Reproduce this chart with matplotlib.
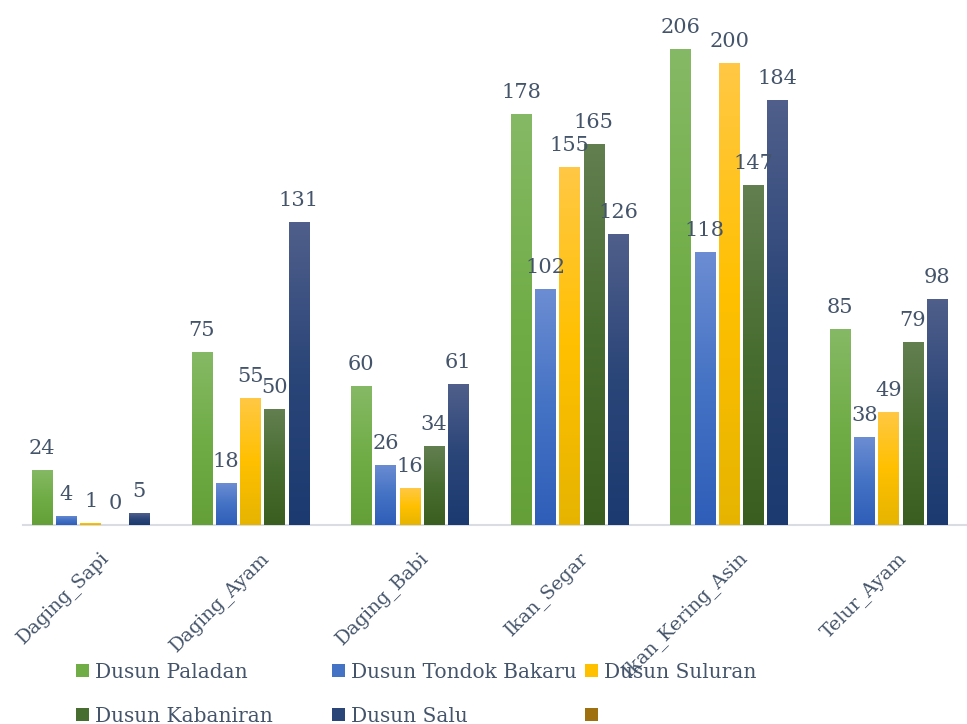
import numpy as np
import matplotlib
matplotlib.use("Agg")
import matplotlib.pyplot as plt
from matplotlib.colors import LinearSegmentedColormap
from matplotlib.patches import Rectangle
from matplotlib.transforms import ScaledTranslation

plt.rcParams["font.family"] = ["DejaVu Serif"]

# data
kategori = ["Daging_Sapi", "Daging_Ayam", "Daging_Babi", "Ikan_Segar", "Ikan_Kering_Asin", "Telur_Ayam"]
dusun = ["Dusun Paladan", "Dusun Tondok Bakaru", "Dusun Suluran", "Dusun Kabaniran", "Dusun Salu", ""]
paladan = [24, 75, 60, 178, 206, 85]
tondok_bakaru = [4, 18, 26, 102, 118, 38]
suluran = [1, 55, 16, 155, 200, 49]
kabaniran = [0, 50, 34, 165, 147, 79]
salu = [5, 131, 61, 126, 184, 98]
kosong = []  # seri keenam di legenda, tanpa nilai
data = [paladan, tondok_bakaru, suluran, kabaniran, salu, kosong]

# warna gradien (atas, tengah, bawah)
warna = [
    ("#86B965", "#70AD47", "#64A037"),
    ("#6C8DD3", "#4472C4", "#2F5EB9"),
    ("#FFC845", "#FFC000", "#E6B400"),
    ("#627F50", "#486D30", "#3A5E1F"),
    ("#505F8B", "#2A4578", "#1C3A70"),
    ("#A17C36", "#9E7010", "#996E00"),
]
teks = "#44546A"

W, H = 967, 724
fig = plt.figure(figsize=(W / 100, H / 100), dpi=100)
ax = fig.add_axes([23 / W, (H - 525) / H, (W - 23) / W, 525 / H])

x = np.arange(len(kategori))
slot = 0.152
lebar = 0.128
grad = np.linspace(0, 1, 256).reshape(-1, 1)

for i, nilai in enumerate(data):
    if not nilai:
        continue
    atas, tengah, bawah = warna[i]
    cmap = LinearSegmentedColormap.from_list("g%d" % i, [bawah, tengah, atas])
    posisi = x + (i - 2.5) * slot
    bars = ax.bar(posisi, nilai, lebar, color=tengah, zorder=2)
    for b, v in zip(bars, nilai):
        if v > 0:
            im = ax.imshow(grad, extent=[b.get_x(), b.get_x() + b.get_width(), 0, v],
                           origin="lower", aspect="auto", cmap=cmap, zorder=3)
            im.set_clip_path(b)
        ax.annotate(str(v), (b.get_x() + b.get_width() / 2, v), xytext=(0, 16),
                    textcoords="offset pixels", ha="center", va="baseline",
                    fontsize=15, color=teks, zorder=4)

ax.set_xlim(-0.5, -0.5 + (W - 23) / 159.6)
ax.set_ylim(0, 525 / 2.311)

ax.set_xticks(x)
ax.set_xticklabels(kategori, rotation=45, ha="right", va="center",
                   rotation_mode="anchor", fontsize=13.7, color=teks)
ax.tick_params(axis="x", length=0, pad=22)
for lbl in ax.get_xticklabels():
    lbl.set_transform(lbl.get_transform() + ScaledTranslation(3 / 100, 0, fig.dpi_scale_trans))
ax.set_yticks([])
for s in ["top", "left", "right"]:
    ax.spines[s].set_visible(False)
ax.spines["bottom"].set_color("#D9DDE3")
ax.spines["bottom"].set_linewidth(1.5)
ax.patch.set_alpha(0)

# legenda manual (kolom tetap seperti Excel)
kolom = [76, 332, 585]
baris = [670, 714]
for i, nama in enumerate(dusun):
    cx = kolom[i % 3]
    cy = baris[i // 3]
    fig.add_artist(Rectangle((cx / W, 1 - (cy + 6.5) / H), 13 / W, 13 / H,
                             transform=fig.transFigure, color=warna[i][1], lw=0))
    if nama:
        fig.text((cx + 19) / W, 1 - (cy + 7.5) / H, nama, fontsize=14.5, color=teks,
                 ha="left", va="baseline")

fig.savefig("out.png", dpi=100)
